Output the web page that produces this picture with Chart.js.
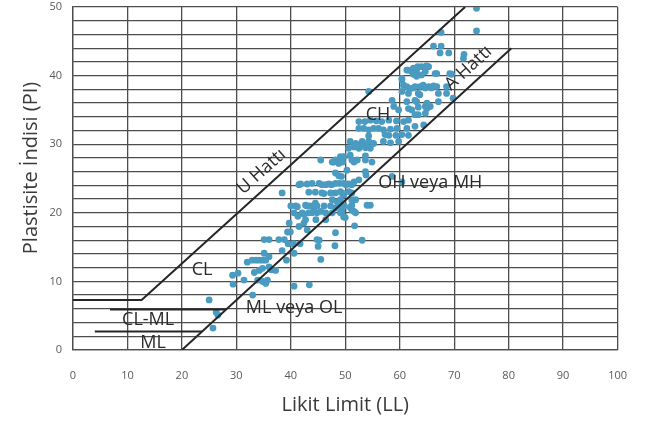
<!DOCTYPE html>
<html>
<head>
<meta charset="utf-8">
<script src="https://cdn.jsdelivr.net/npm/chart.js@4.4.1/dist/chart.umd.min.js"></script>
<style>
  html, body { margin: 0; padding: 0; background: #fff; }
  #wrap { width: 646px; height: 421px; }
</style>
</head>
<body>
<div id="wrap"><canvas id="chart-canvas" width="646" height="421"></canvas></div>
<script>
// numune noktalari [LL, PI]
const numuneler = [
  [25.0,7.3],[26.3,5.5],[26.6,5.1],[25.7,3.2],
  [29.3,10.9],[30.3,11.2],[29.4,9.6],[31.4,10.2],
  [32.0,12.8],[32.9,13.1],[33.6,13.1],[34.2,13.1],[34.8,13.1],[35.4,13.1],
  [35.1,14.1],[36.0,13.6],[33.3,11.3],[34.2,11.6],[34.8,11.9],[33.9,10.2],[34.8,10.0],[35.4,9.7],[35.7,10.2],[36.0,12.1],[36.4,11.7],[37.2,11.6],[33.0,8.0],
  [35.1,16.1],[36.0,16.1],[37.8,16.1],[38.8,16.1],
  [38.4,14.5],[39.2,13.1],[39.5,15.5],[40.5,15.5],[41.7,15.5],[40.6,14.1],
  [45.2,16.0],[45.5,13.2],[45.0,15.1],[40.6,9.3],[43.4,9.5],
  [48.1,15.2],[48.2,17.1],[51.7,18.1],[44.8,16.1],[43.0,17.5],[41.5,18.0],[39.7,18.5],[39.4,17.2],[39.9,17.2],
  [40.6,20.0],[41.3,19.5],[42.4,19.8],[43.3,20.0],
  [41.2,20.9],[42.7,21.1],[43.6,21.0],[44.5,21.4],[42.4,18.5],[44.2,20.4],[45.5,20.2],
  [53.1,16.0],[51.6,20.2],[49.7,19.4],[51.2,21.9],[51.2,21.1],
  [41.5,24.1],[45.7,24.1],[46.4,24.1],[47.5,24.1],[50.1,24.1],[51.2,24.1],
  [45.7,22.9],[47.3,22.9],[49.4,22.9],[51.2,22.9],
  [40.0,21.0],[40.9,21.0],[43.0,21.0],[44.8,21.0],[46.1,21.0],[47.3,21.0],[49.8,21.0],
  [42.1,20.0],[43.9,20.0],[44.8,20.0],[46.4,20.0],[47.6,20.0],[49.1,20.0],[51.9,20.0],
  [42.7,19.0],[44.6,19.0],[46.4,19.0],
  [38.4,22.9],[41.8,24.2],[43.0,24.2],[45.5,27.7],
  [47.6,27.4],[48.2,27.6],[49.1,28.2],[49.5,27.4],[48.8,27.2],
  [50.9,28.4],[51.6,27.4],[52.2,27.7],[53.7,28.3],[54.9,27.4],[50.3,26.2],
  [48.2,25.8],[48.8,25.4],[49.3,25.3],
  [43.9,24.3],[45.2,24.3],[47.0,24.2],[48.2,24.3],[48.9,24.3],[49.7,24.3],[50.6,24.2],
  [51.6,24.5],[52.5,24.8],[53.7,26.0],[53.8,25.5],
  [43.3,23.0],[44.5,23.0],[46.1,22.8],
  [48.2,22.9],[49.1,23.1],[49.7,22.6],[50.6,23.1],
  [48.5,21.6],[49.1,21.9],[47.6,21.9],
  [48.2,20.7],[48.8,21.0],[50.9,20.8],[54.0,21.1],[54.6,21.1],[51.9,21.9],[51.2,20.4],[50.0,19.3],[49.4,20.2],
  [52.5,33.3],[53.6,33.3],[54.6,33.5],[55.7,33.4],[56.7,33.3],[58.0,33.5],[59.4,33.4],[60.7,33.3],[61.6,33.5],[62.8,34.3],[63.4,34.3],[64.7,34.5],
  [52.5,32.3],[53.4,32.3],[54.3,32.1],[55.2,32.3],[56.1,32.3],[57.0,32.1],[58.3,32.2],[59.5,32.3],[61.3,32.3],[62.8,32.6],[64.4,32.8],
  [54.3,31.2],[57.3,31.4],[58.0,31.3],[59.3,31.3],[60.4,31.4],[61.6,31.3],
  [50.9,30.4],[51.9,30.1],[53.1,30.4],[54.3,30.4],[55.2,30.1],[57.0,30.4],[58.3,30.2],[59.8,30.4],[52.8,30.0],[53.7,30.0],
  [50.6,29.4],[51.6,29.6],[52.5,29.4],[53.7,29.5],[54.6,29.4],
  [48.2,27.7],[49.1,27.9],[49.7,28.2],[51.2,27.7],[47.9,27.4],[53.7,27.7],
  [60.4,24.5],[58.6,25.3],
  [54.3,37.7],[58.6,36.4],[58.9,35.5],[59.8,35.0],[61.6,35.2],[62.2,35.0],[63.4,35.4],[65.0,35.2],[64.7,35.5],[65.6,35.5],
  [61.3,36.2],[63.1,36.2],[65.0,36.0],[67.1,36.2],[62.8,36.4],[69.8,36.7],
  [60.4,37.7],[61.6,37.4],[63.4,37.4],[67.1,37.4],[68.6,37.4],[63.7,37.2],
  [60.4,39.6],[60.7,38.6],[61.3,38.4],[61.9,38.1],[62.8,38.4],[63.7,38.4],[64.3,38.6],[65.3,38.4],[66.2,38.5],[66.8,38.4],[68.6,38.4],[62.5,38.2],[64.7,38.2],[65.8,38.2],
  [61.3,40.8],[62.2,40.6],[63.1,40.8],[64.0,41.3],[64.9,41.4],[64.7,40.6],[64.0,40.1],[63.1,40.1],[66.5,40.3],[69.5,40.2],
  [61.5,40.8],[62.5,41.1],[63.3,41.3],[65.3,41.3],[62.5,40.2],[63.1,39.9],[60.4,39.4],[66.8,40.3],[69.2,40.3],
  [66.2,44.3],[67.6,44.3],[67.4,43.3],[69.0,43.3],[71.8,43.1],[71.7,42.5],[67.6,46.3],[74.1,46.5],[74.1,49.8]
];

// siniflandirma cizgileri
const uHatti = [[0,7.3],[12.6,7.3],[72,50]];
const aHatti = [[20,0],[80.5,44]];
const clmlCizgi = [[6.8,5.9],[28.1,5.9]];
const mlCizgi = [[4,2.7],[23.7,2.7]];

// bolge etiketleri [metin, LL, PI, aci]
const etiketler = [
  ["CL", 23.7, 11.7, 0],
  ["CL-ML", 13.8, 4.4, 0],
  ["ML", 14.7, 1.1, 0],
  ["ML veya OL", 40.6, 6.2, 0],
  ["OH veya MH", 65.6, 24.4, 0],
  ["CH", 56.0, 34.3, 0],
  ["U Hattı", 34.6, 26.0, -42],
  ["A Hattı", 72.6, 41.1, -42.5]
];

const xTicks = [0, 10, 20, 30, 40, 50, 60, 70, 80, 90, 100];
const yBaslik = "Plastisite İndisi (PI)";

const toXY = (arr) => arr.map((p) => ({ x: p[0], y: p[1] }));

function cizgi(data) {
  return {
    type: "line",
    data: toXY(data),
    borderColor: "#262626",
    borderWidth: 2,
    pointRadius: 0,
    fill: false,
    tension: 0,
  };
}

const etiketPlugin = {
  id: "etiketler",
  afterDatasetsDraw(chart) {
    const ctx = chart.ctx;
    const xs = chart.scales.x;
    const ys = chart.scales.y;
    ctx.save();
    ctx.font = "18px 'Open Sans'";
    ctx.fillStyle = "#2b2b2b";
    ctx.textAlign = "center";
    ctx.textBaseline = "middle";
    etiketler.forEach(([metin, ll, pi, aci]) => {
      ctx.save();
      ctx.translate(xs.getPixelForValue(ll), ys.getPixelForValue(pi));
      ctx.rotate((aci * Math.PI) / 180);
      ctx.fillText(metin, 0, 0);
      ctx.restore();
    });
    // y ekseni basligi
    ctx.font = "20px 'Open Sans'";
    ctx.fillStyle = "#3a3a3a";
    ctx.translate(31, 168);
    ctx.rotate(-Math.PI / 2);
    ctx.fillText(yBaslik, 0, 0);
    ctx.restore();
  },
};

const gridColor = "#4d4d4d";
const ctx = document.getElementById("chart-canvas").getContext("2d");
const chart = new Chart(ctx, {
  type: "scatter",
  data: {
    datasets: [
      cizgi(uHatti),
      cizgi(aHatti),
      cizgi(clmlCizgi),
      cizgi(mlCizgi),
      {
        label: "Numuneler",
        data: toXY(numuneler),
        backgroundColor: "#4a9bc1",
        borderWidth: 0,
        pointRadius: 3.4,
      },
    ],
  },
  options: {
    responsive: false,
    animation: false,
    layout: { padding: { top: 7, right: 26, left: 0, bottom: 0 } },
    plugins: { legend: { display: false }, tooltip: { enabled: false } },
    scales: {
      x: {
        type: "linear",
        min: 0,
        max: 100,
        afterFit(scale) { scale.height = 71; },
        afterBuildTicks(scale) { scale.ticks = xTicks.map((v) => ({ value: v })); },
        grid: { color: gridColor, lineWidth: 1.3, drawTicks: false },
        border: { color: gridColor, width: 1.3 },
        ticks: { color: "#595959", font: { family: "'Open Sans'", size: 11 }, padding: 19, maxRotation: 0 },
        title: { display: true, text: "Likit Limit (LL)", color: "#3a3a3a", font: { family: "'Open Sans'", size: 20 }, padding: { top: 0, bottom: 4 } },
      },
      y: {
        type: "linear",
        min: 0,
        max: 50,
        afterFit(scale) {
          scale.width = 73;
          scale.paddingTop = 0;
          scale.paddingBottom = 0;
        },
        grid: { color: gridColor, lineWidth: 1.3, drawTicks: false },
        border: { color: gridColor, width: 1.3 },
        ticks: {
          stepSize: 2,
          autoSkip: false,
          color: "#595959",
          font: { family: "'Open Sans'", size: 11 },
          padding: 11,
          callback: (v) => (v % 10 === 0 ? v : ""),
        },
      },
    },
  },
  plugins: [etiketPlugin],
});
</script>
</body>
</html>
